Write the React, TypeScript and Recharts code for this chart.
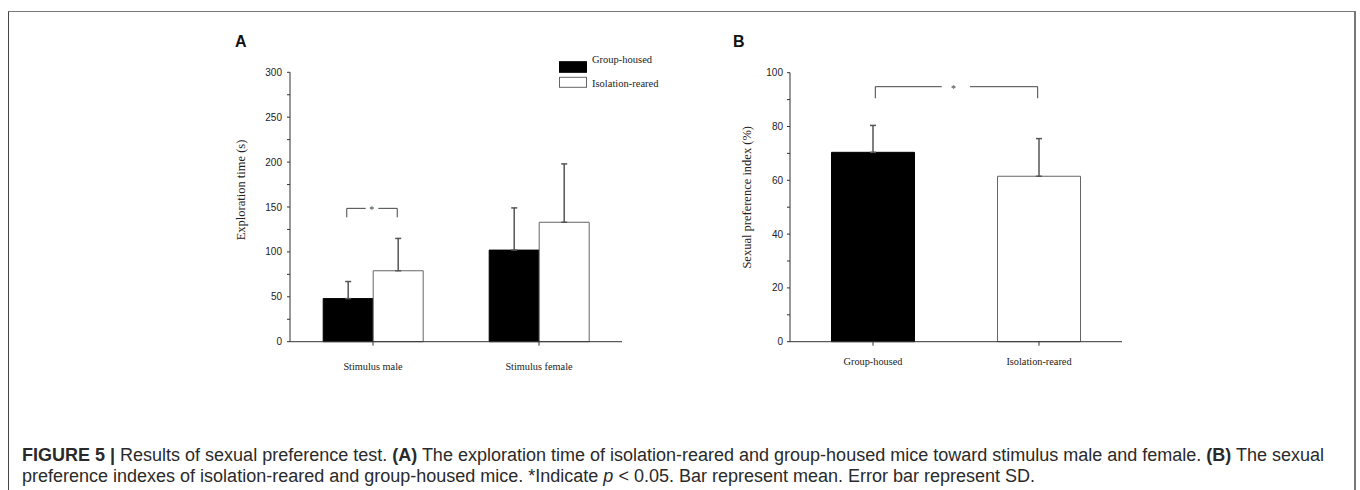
import React from 'react';
import {
  BarChart, Bar, XAxis, YAxis, ErrorBar, Cell, Legend, ReferenceLine, ReferenceDot,
} from 'recharts';

// ---------- data ----------
const categoriesA = ['Stimulus male', 'Stimulus female'];
const groupHousedA = [48, 102];
const groupHousedSdA = [19, 47];
const isolationRearedA = [79, 133];
const isolationRearedSdA = [36, 65];
const ticksA = [0, 25, 50, 75, 100, 125, 150, 175, 200, 225, 250, 275, 300];

const categoriesB = ['Group-housed', 'Isolation-reared'];
const preferenceB = [70.4, 61.5];
const preferenceSdB = [10, 14];
const ticksB = [0, 10, 20, 30, 40, 50, 60, 70, 80, 90, 100];

const seriesNames = ['Group-housed', 'Isolation-reared'];

// significance brackets (x as a fraction 0..1 of the plot width, y in data units)
const bracketA = { x1: 0.171, x2: 0.323, gap1: 0.228, gap2: 0.266, star: 0.246, top: 148.5, leg: 138.5 };
const bracketB = { x1: 0.257, x2: 0.746, gap1: 0.457, gap2: 0.542, star: 0.4925, top: 94.8, leg: 90.5 };

const dataA = categoriesA.map((c, i) => ({
  name: c,
  gh: groupHousedA[i],
  ghErr: [0, groupHousedSdA[i]],
  ir: isolationRearedA[i],
  irErr: [0, isolationRearedSdA[i]],
}));

const dataB = categoriesB.map((c, i) => ({
  name: c,
  v: preferenceB[i],
  err: [0, preferenceSdB[i]],
}));

const SERIF = '"Liberation Serif", "Times New Roman", serif';
const SANS = '"Liberation Sans", Arial, sans-serif';
const AXIS = '#333';
const ERR = '#555';

const makeYTick = (step: number) => (props: any) => {
  const { x, y, payload } = props;
  const show = payload.value % step === 0;
  if (!show) return <g />;
  return (
    <text x={x} y={y} textAnchor="end" dominantBaseline="central" fontFamily={SANS} fontSize={10} fill="#222">
      {payload.value}
    </text>
  );
};

const makeXTick = (props: any) => {
  const { x, y, payload } = props;
  return (
    <text x={x} y={y} dy="0.71em" textAnchor="middle" fontFamily={SERIF} fontSize={10.3} fill="#222">
      {payload.value}
    </text>
  );
};

const yLabel = (text: string, x: number, y: number) => () => (
  <text
    x={x}
    y={y}
    transform={`rotate(-90 ${x} ${y})`}
    textAnchor="middle"
    dominantBaseline="central"
    fontFamily={SERIF}
    fontSize={12.5}
    fill="#222"
  >
    {text}
  </text>
);

const star = (props: any) => (
  <text x={props.cx} y={props.cy + 5} textAnchor="middle" fontFamily={SERIF} fontSize={10} fill="#444">
    *
  </text>
);

const Bracket = (b: typeof bracketA) => [
  <ReferenceLine key="l1" xAxisId="num" segment={[{ x: b.x1, y: b.top }, { x: b.gap1, y: b.top }]} stroke="#444" strokeWidth={1} />,
  <ReferenceLine key="l2" xAxisId="num" segment={[{ x: b.gap2, y: b.top }, { x: b.x2, y: b.top }]} stroke="#444" strokeWidth={1} />,
  <ReferenceLine key="l3" xAxisId="num" segment={[{ x: b.x1, y: b.top }, { x: b.x1, y: b.leg }]} stroke="#444" strokeWidth={1} />,
  <ReferenceLine key="l4" xAxisId="num" segment={[{ x: b.x2, y: b.top }, { x: b.x2, y: b.leg }]} stroke="#444" strokeWidth={1} />,
  <ReferenceDot key="s" xAxisId="num" x={b.star} y={b.top} r={0} shape={star} />,
];

const legendContent = (props: any) => {
  const payload = props.payload || [];
  return (
    <svg width={130} height={40} style={{ display: 'block' }}>
      {payload.map((p: any, i: number) => (
        <g key={i}>
          <rect
            x={0.5}
            y={i === 0 ? 7.7 : 23.3}
            width={27}
            height={i === 0 ? 10.6 : 10}
            fill={i === 0 ? '#000' : '#fff'}
            stroke={i === 0 ? '#000' : '#666'}
            strokeWidth={1}
          />
          <text
            x={33}
            y={i === 0 ? 5.5 : 29}
            dominantBaseline="central"
            fontFamily={SERIF}
            fontSize={10.5}
            fill="#222"
          >
            {p.value}
          </text>
        </g>
      ))}
    </svg>
  );
};

export default function App() {
  return (
    <div style={{ position: 'absolute', left: 0, top: 0, width: 1360, height: 490, background: '#fff', overflow: 'hidden' }}>
      {/* figure frame */}
      <div
        style={{
          position: 'absolute',
          left: 8,
          top: 11,
          width: 1345,
          height: 600,
          borderLeft: '1px solid #444',
          borderTop: '1px solid #777',
          borderRight: '2px solid #777',
        }}
      />

      {/* panel letters */}
      <div style={{ position: 'absolute', left: 235, top: 33, fontFamily: SANS, fontWeight: 700, fontSize: 16, color: '#111' }}>A</div>
      <div style={{ position: 'absolute', left: 733, top: 33, fontFamily: SANS, fontWeight: 700, fontSize: 16, color: '#111' }}>B</div>

      {/* Panel A */}
      <div style={{ position: 'absolute', left: 220, top: 30 }}>
        <BarChart
          width={420}
          height={360}
          data={dataA}
          margin={{ top: 42.3, right: 18, bottom: 18.3, left: 10 }}
          barCategoryGap="20%"
          barGap={0}
        >
          <XAxis
            dataKey="name"
            tick={makeXTick}
            tickSize={4}
            tickMargin={17}
            height={30}
            axisLine={{ stroke: AXIS }}
            tickLine={{ stroke: AXIS }}
          />
          <XAxis xAxisId="num" type="number" domain={[0, 1]} hide allowDataOverflow />
          <YAxis
            width={60}
            domain={[0, 300]}
            ticks={ticksA}
            interval={0}
            tick={makeYTick(50)}
            tickSize={3}
            tickMargin={5}
            axisLine={{ stroke: AXIS }}
            tickLine={{ stroke: AXIS }}
            label={{ content: yLabel('Exploration time (s)', 20.7, 160) }}
          />
          <Legend
            content={legendContent}
            layout="horizontal"
            align="center"
            verticalAlign="middle"
            wrapperStyle={{ position: 'absolute', left: 339, top: 24, width: 130, height: 40 }}
          />
          <Bar dataKey="gh" name={seriesNames[0]} fill="#000" stroke="#000" isAnimationActive={false}>
            <ErrorBar dataKey="ghErr" width={3} stroke={ERR} strokeWidth={1.5} direction="y" />
          </Bar>
          <Bar dataKey="ir" name={seriesNames[1]} fill="#fff" stroke="#666" strokeWidth={1} isAnimationActive={false}>
            <ErrorBar dataKey="irErr" width={3} stroke={ERR} strokeWidth={1.5} direction="y" />
          </Bar>
          {Bracket(bracketA)}
        </BarChart>
      </div>

      {/* Panel B */}
      <div style={{ position: 'absolute', left: 730, top: 30 }}>
        <BarChart
          width={420}
          height={360}
          data={dataB}
          margin={{ top: 42.7, right: 28, bottom: 18.3, left: 10 }}
          barCategoryGap="25%"
        >
          <XAxis
            dataKey="name"
            tick={makeXTick}
            tickSize={4}
            tickMargin={11.5}
            height={30}
            axisLine={{ stroke: AXIS }}
            tickLine={{ stroke: AXIS }}
          />
          <XAxis xAxisId="num" type="number" domain={[0, 1]} hide allowDataOverflow />
          <YAxis
            width={50}
            domain={[0, 100]}
            ticks={ticksB}
            interval={0}
            tick={makeYTick(20)}
            tickSize={3}
            tickMargin={4}
            axisLine={{ stroke: AXIS }}
            tickLine={{ stroke: AXIS }}
            label={{ content: yLabel('Sexual preference index (%)', 16.7, 167.3) }}
          />
          <Bar dataKey="v" isAnimationActive={false} strokeWidth={1}>
            {dataB.map((d, i) => (
              <Cell key={i} fill={i === 0 ? '#000' : '#fff'} stroke={i === 0 ? '#000' : '#666'} />
            ))}
            <ErrorBar dataKey="err" width={3} stroke={ERR} strokeWidth={1.5} direction="y" />
          </Bar>
          {Bracket(bracketB)}
        </BarChart>
      </div>

      {/* caption */}
      <div
        style={{
          position: 'absolute',
          left: 22,
          top: 445,
          width: 1330,
          fontFamily: SANS,
          fontSize: 18,
          lineHeight: '21px',
          color: '#2a2a2a',
          whiteSpace: 'nowrap',
        }}
      >
        <b>FIGURE 5 |</b> Results of sexual preference test. <b>(A)</b> The exploration time of isolation-reared and group-housed mice toward stimulus male and female. <b>(B)</b> The sexual
        <br />
        preference indexes of isolation-reared and group-housed mice. *Indicate <i>p</i> &lt; 0.05. Bar represent mean. Error bar represent SD.
      </div>
    </div>
  );
}
